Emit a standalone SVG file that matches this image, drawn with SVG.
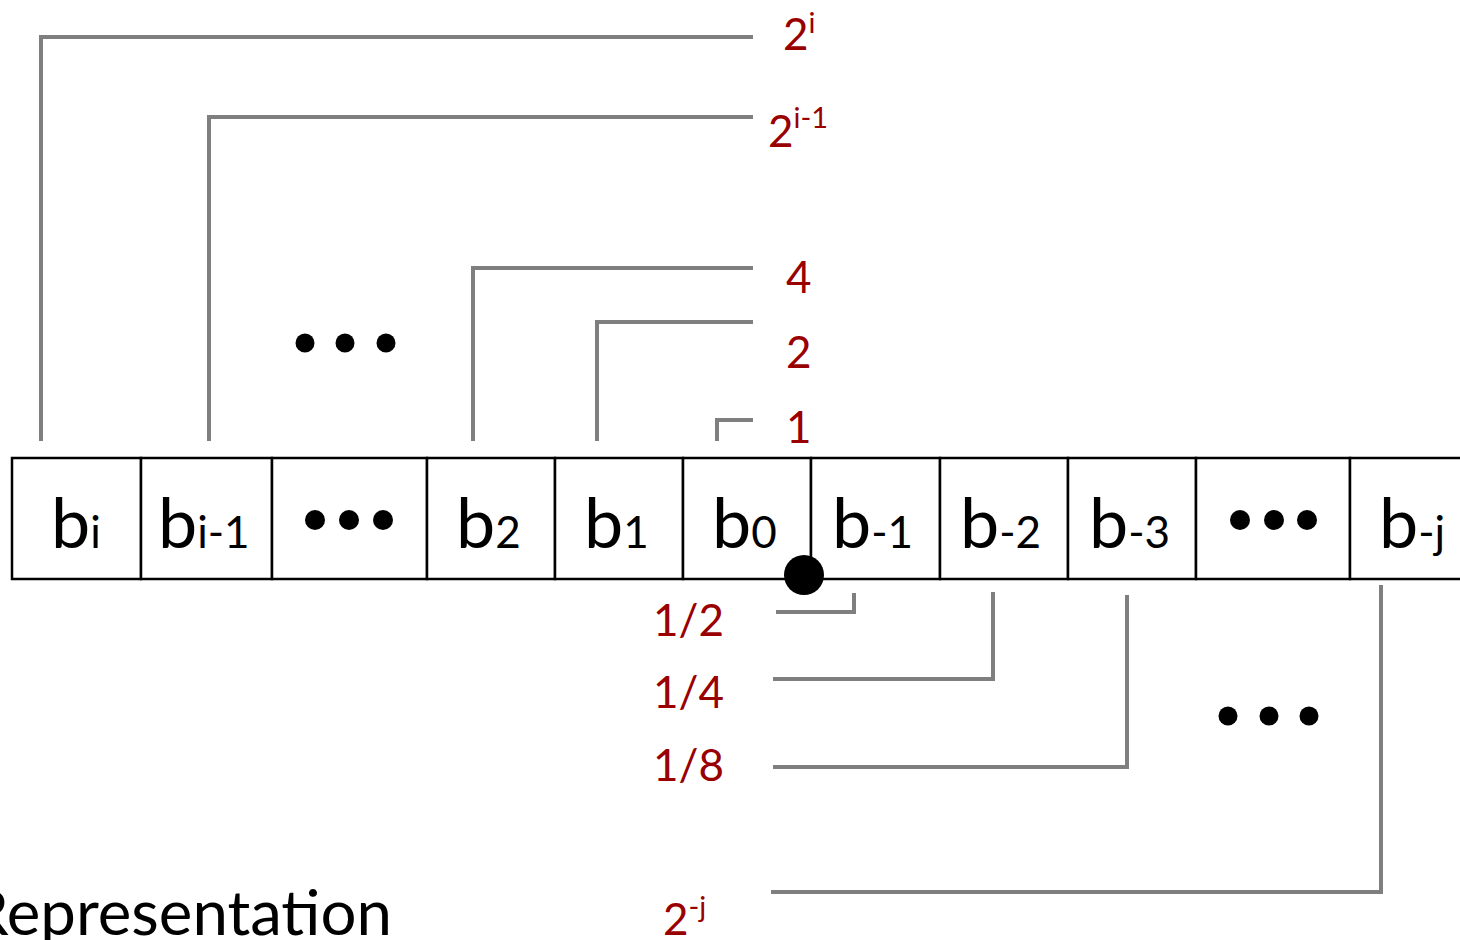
<svg xmlns="http://www.w3.org/2000/svg" width="1460" height="940" viewBox="0 0 1460 940">
<style>
.cell{fill:#fff;stroke:#000;stroke-width:2.5}
.conn{fill:none;stroke:#7f7f7f;stroke-width:4;stroke-linejoin:miter}
.big{font-family:Lato,"Open Sans",sans-serif;font-size:70px;fill:#000}
.sub{font-size:44px}
.lab{font-family:Lato,"Open Sans",sans-serif;font-size:44px;fill:#990000}
.sup{font-size:29px}
.title{font-family:Lato,"Open Sans",sans-serif;font-size:62px;fill:#000}
</style>
<rect width="1460" height="940" fill="#fff"/>
<g id="connectors">
<polyline class="conn" points="41,441 41,37 753,37"/>
<polyline class="conn" points="209,441 209,117 753,117"/>
<polyline class="conn" points="473,441 473,268 753,268"/>
<polyline class="conn" points="597,441 597,322 753,322"/>
<polyline class="conn" points="717,441 717,420 753,420"/>
<polyline class="conn" points="854,593 854,612 776,612"/>
<polyline class="conn" points="993,592 993,679 773,679"/>
<polyline class="conn" points="1127,595 1127,767 773,767"/>
<polyline class="conn" points="1381,585 1381,892 771,892"/>
</g>
<g id="register">
<g id="cell-bi"><rect class="cell" x="12" y="458" width="129" height="121"/><text class="big" x="51" y="548">b<tspan class="sub">i</tspan></text></g>
<g id="cell-bi-1"><rect class="cell" x="141" y="458" width="131" height="121"/><text class="big" x="158" y="548">b<tspan class="sub">i-1</tspan></text></g>
<g id="cell-dots1"><rect class="cell" x="272" y="458" width="155" height="121"/><circle cx="315" cy="520" r="10"/><circle cx="349" cy="520" r="10"/><circle cx="383" cy="520" r="10"/></g>
<g id="cell-b2"><rect class="cell" x="427" y="458" width="128" height="121"/><text class="big" x="456" y="548">b<tspan class="sub">2</tspan></text></g>
<g id="cell-b1"><rect class="cell" x="555" y="458" width="128" height="121"/><text class="big" x="584" y="548">b<tspan class="sub">1</tspan></text></g>
<g id="cell-b0"><rect class="cell" x="683" y="458" width="128" height="121"/><text class="big" x="712" y="548">b<tspan class="sub">0</tspan></text></g>
<g id="cell-b-1"><rect class="cell" x="811" y="458" width="129" height="121"/><text class="big" x="832" y="548">b<tspan class="sub">-1</tspan></text></g>
<g id="cell-b-2"><rect class="cell" x="940" y="458" width="128" height="121"/><text class="big" x="960" y="548">b<tspan class="sub">-2</tspan></text></g>
<g id="cell-b-3"><rect class="cell" x="1068" y="458" width="128" height="121"/><text class="big" x="1089" y="548">b<tspan class="sub">-3</tspan></text></g>
<g id="cell-dots2"><rect class="cell" x="1196" y="458" width="154" height="121"/><circle cx="1240" cy="520" r="10"/><circle cx="1274" cy="520" r="10"/><circle cx="1307" cy="520" r="10"/></g>
<g id="cell-b-j"><rect class="cell" x="1350" y="458" width="120" height="121"/><text class="big" x="1379" y="548">b<tspan class="sub">-j</tspan></text></g>
</g>
<g id="binary-point"><circle cx="804" cy="575" r="20" fill="#000"/></g>
<g id="dots-top"><circle cx="305" cy="343" r="9.5"/><circle cx="345" cy="343" r="9.5"/><circle cx="386" cy="343" r="9.5"/></g>
<g id="dots-bottom"><circle cx="1228" cy="716" r="9.5"/><circle cx="1269" cy="716" r="9.5"/><circle cx="1309" cy="716" r="9.5"/></g>
<g id="labels">
<text class="lab" x="783" y="50">2<tspan class="sup" dy="-17">i</tspan></text>
<text class="lab" x="768" y="147">2<tspan class="sup" dy="-19">i-1</tspan></text>
<text class="lab" x="786" y="293">4</text>
<text class="lab" x="786" y="368">2</text>
<text class="lab" x="786" y="443">1</text>
<text class="lab" x="653" y="636">1/2</text>
<text class="lab" x="653" y="708">1/4</text>
<text class="lab" x="653" y="781">1/8</text>
<text class="lab" x="663" y="935">2<tspan class="sup" dy="-18">-j</tspan></text>
</g>
<text class="title" x="-31" y="935" textLength="423" lengthAdjust="spacingAndGlyphs">Representation</text>
</svg>
